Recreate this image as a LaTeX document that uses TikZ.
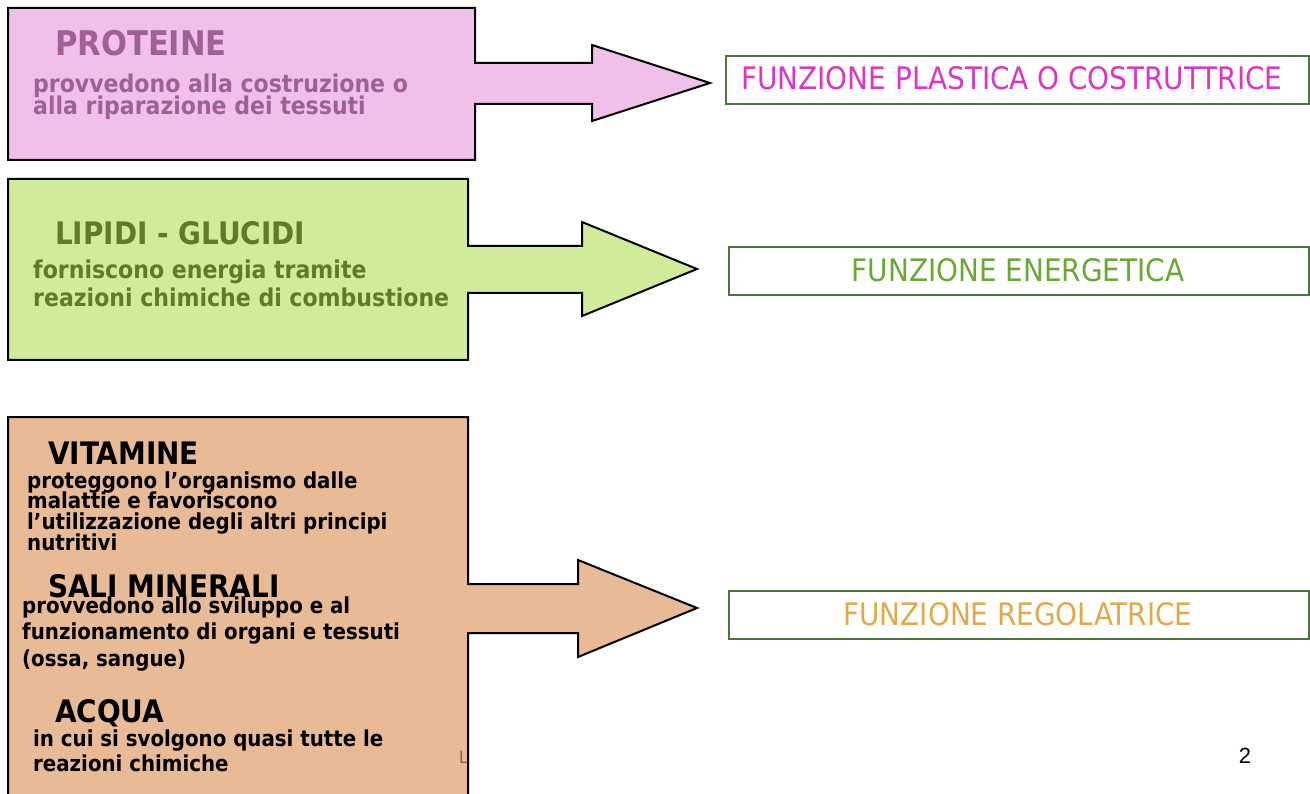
\documentclass[tikz,border=0pt]{standalone}
\usepackage{fontspec}
\setmainfont{DejaVu Sans Condensed}
\newfontfamily\pagefont{Liberation Sans}
\definecolor{pinkfill}{RGB}{240,192,234}
\definecolor{pinktext}{RGB}{160,96,150}
\definecolor{greenfill}{RGB}{208,236,154}
\definecolor{greentext}{RGB}{96,122,40}
\definecolor{brownfill}{RGB}{233,186,150}
\definecolor{magentatext}{RGB}{220,52,200}
\definecolor{energytext}{RGB}{102,170,52}
\definecolor{goldtext}{RGB}{224,170,72}
\definecolor{boxline}{RGB}{78,116,62}
\definecolor{straytext}{RGB}{140,95,50}
\tikzset{
  arrowbox/.style={draw=black, line width=2pt, line join=miter},
  funcbox/.style={draw=boxline, line width=1.6pt, fill=white},
  head/.style={anchor=base west, inner sep=0pt, font=\fontsize{31}{31}\selectfont\bfseries},
  body/.style={anchor=base west, inner sep=0pt, font=\fontsize{22}{22}\selectfont\bfseries},
  bigbody/.style={anchor=base west, inner sep=0pt, font=\fontsize{24.5}{24.5}\selectfont\bfseries},
  functext/.style={anchor=base, inner sep=0pt, font=\fontsize{31}{31}\selectfont},
}
\begin{document}
\begin{tikzpicture}[x=1pt,y=-1pt]
\useasboundingbox (0,0) rectangle (1310,794);
\fill[white] (0,0) rectangle (1310,794);
% arrow-shaped boxes
\draw[arrowbox, fill=pinkfill] (8,8) -- (475,8) -- (475,63) -- (592,63) -- (592,45) -- (710,83) -- (592,121) -- (592,104) -- (475,104) -- (475,160) -- (8,160) -- cycle;
\draw[arrowbox, fill=greenfill] (8,179) -- (468,179) -- (468,246) -- (582,246) -- (582,222) -- (697,269) -- (582,316) -- (582,293) -- (468,293) -- (468,360) -- (8,360) -- cycle;
\draw[arrowbox, fill=brownfill] (8,800) -- (8,417) -- (468,417) -- (468,584) -- (578,584) -- (578,560) -- (697,608) -- (578,657) -- (578,633) -- (468,633) -- (468,800);
% function boxes
\node[funcbox, minimum width=583pt, minimum height=48pt, anchor=north west] (fplast) at (725,55) {};
\node[funcbox, minimum width=580pt, minimum height=48pt, anchor=north west] (fener) at (728,246) {};
\node[funcbox, minimum width=580pt, minimum height=48pt, anchor=north west] (freg) at (728,590) {};
\node[functext, text=magentatext] (tplast) at (1012,90) {FUNZIONE PLASTICA O COSTRUTTRICE};
\node[functext, text=energytext] (tener) at (1018,282) {FUNZIONE ENERGETICA};
\node[functext, text=goldtext] (treg) at (1018,625) {FUNZIONE REGOLATRICE};
% pink texts
\node[head, text=pinktext, font=\fontsize{34}{34}\selectfont\bfseries] (hprot) at (55,56) {PROTEINE};
\node[bigbody, text=pinktext] (bprot1) at (33,93) {provvedono alla costruzione o};
\node[bigbody, text=pinktext] (bprot2) at (33,115) {alla riparazione dei tessuti};
% green texts
\node[head, text=greentext] (hlip) at (55,245) {LIPIDI - GLUCIDI};
\node[bigbody, text=greentext] (blip1) at (33,279) {forniscono energia tramite};
\node[bigbody, text=greentext] (blip2) at (33,307) {reazioni chimiche di combustione};
% brown texts
\node[head] (hvit) at (48,464) {VITAMINE};
\node[body] (bvit1) at (27,488) {proteggono l’organismo dalle};
\node[body] (bvit2) at (27,508) {malattie e favoriscono};
\node[body] (bvit3) at (27,529) {l’utilizzazione degli altri principi};
\node[body] (bvit4) at (27,550) {nutritivi};
\node[head] (hsali) at (48,597) {SALI MINERALI};
\node[body] (bsali1) at (22,613) {provvedono allo sviluppo e al};
\node[body] (bsali2) at (22,639) {funzionamento di organi e tessuti};
\node[body] (bsali3) at (22,666) {(ossa, sangue)};
\node[head] (hacq) at (55,722) {ACQUA};
\node[body] (bacq1) at (33,746) {in cui si svolgono quasi tutte le};
\node[body] (bacq2) at (33,771) {reazioni chimiche};
% stray letter and page number
\node[anchor=base west, inner sep=0pt, text=straytext, font=\fontsize{17}{17}\selectfont] (stray) at (459,763) {L};
\node[anchor=base, inner sep=0pt, font=\pagefont\fontsize{22}{22}\selectfont] (pnum) at (1245,763) {2};
\end{tikzpicture}
\end{document}
